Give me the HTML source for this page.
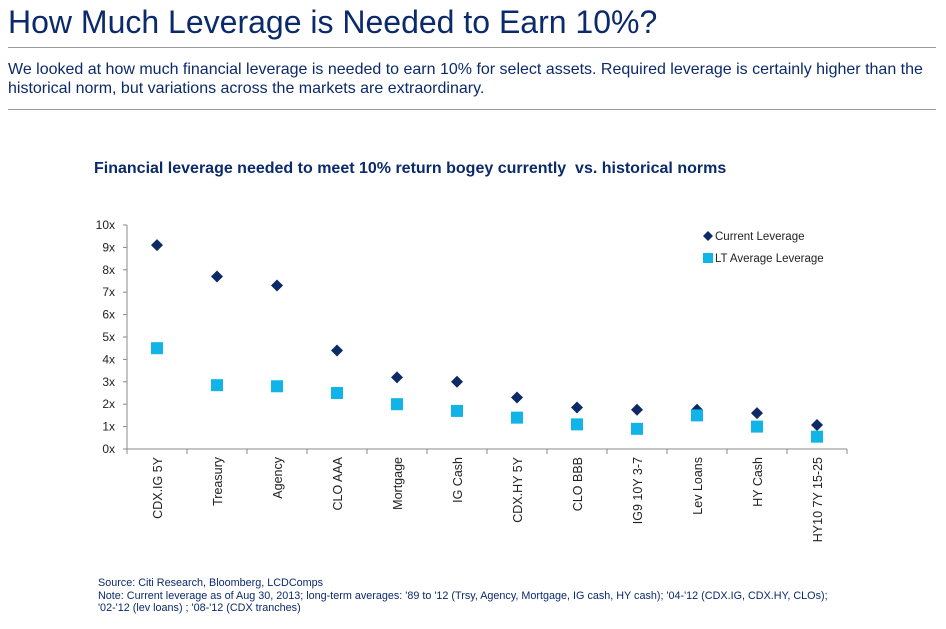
<!DOCTYPE html>
<html><head><meta charset="utf-8"><style>
body{margin:0;width:946px;height:629px;background:#fff;font-family:"Liberation Sans",Arial,sans-serif;overflow:hidden;position:relative}
#title{position:absolute;left:8px;top:4px;font-size:32px;color:#0b2a6b;margin:0;font-weight:normal;white-space:nowrap}
.rule{position:absolute;left:8px;width:928px;height:1px;background:#999}
#desc{position:absolute;left:8px;top:60px;width:936px;font-size:16px;line-height:19px;color:#0b2a6b}
#ctitle{position:absolute;left:94px;top:160px;font-size:16px;font-weight:bold;color:#0b2a6b;white-space:nowrap}
#src{position:absolute;left:98px;top:577px;font-size:10.8px;line-height:12.5px;color:#0b2a6b;white-space:nowrap}
svg{position:absolute;left:0;top:0}
</style></head><body>
<h1 id="title">How Much Leverage is Needed to Earn 10%?</h1>
<div class="rule" style="top:47px"></div>
<div id="desc">We looked at how much financial leverage is needed to earn 10% for select assets. Required leverage is certainly higher than the historical norm, but variations across the markets are extraordinary.</div>
<div class="rule" style="top:109px"></div>
<div id="ctitle">Financial leverage needed to meet 10% return bogey currently&nbsp; vs. historical norms</div>
<svg id="chart" width="946" height="629"></svg>
<div id="src">Source: Citi Research, Bloomberg, LCDComps<br>Note: Current leverage as of Aug 30, 2013; long-term averages: '89 to '12 (Trsy, Agency, Mortgage, IG cash, HY cash); '04-'12 (CDX.IG, CDX.HY, CLOs);<br>'02-'12 (lev loans) ; '08-'12 (CDX tranches)</div>
<script>
const categories=["CDX.IG 5Y","Treasury","Agency","CLO AAA","Mortgage","IG Cash","CDX.HY 5Y","CLO BBB","IG9 10Y 3-7","Lev Loans","HY Cash","HY10 7Y 15-25"];
const currentLev=[9.1,7.7,7.3,4.4,3.2,3.0,2.3,1.85,1.75,1.75,1.6,1.07];
const ltAvgLev=[4.5,2.85,2.8,2.5,2.0,1.7,1.4,1.1,0.9,1.5,1.0,0.55];
const yTicks=[0,1,2,3,4,5,6,7,8,9,10];
const NS="http://www.w3.org/2000/svg";
const svg=document.getElementById('chart');
const x0=127,x1=847,y0=449,y1=225,yMax=10;
const band=(x1-x0)/categories.length;
const xPos=i=>x0+band*(i+0.5);
const yPos=v=>y0-(v/yMax)*(y0-y1);
function mk(t,a){const e=document.createElementNS(NS,t);for(const k in a)e.setAttribute(k,a[k]);svg.appendChild(e);return e;}
const ya=mk('line',{x1:x0,y1:y1,x2:x0,y2:y0,stroke:'#888','stroke-width':1});


const xa=mk('line',{x1:x0,y1:y0,x2:x1,y2:y0,stroke:'#888','stroke-width':1});


yTicks.forEach(v=>{
 const y=yPos(v);
 mk('line',{x1:x0-4,y1:y,x2:x0,y2:y,stroke:'#888'});
 const t=mk('text',{x:x0-12,y:y+4,'text-anchor':'end','font-size':12,fill:'#222','font-family':'Liberation Sans, sans-serif'});
 t.textContent=v+'x';
 
 
});
for(let i=0;i<=categories.length;i++){const x=x0+band*i;mk('line',{x1:x,y1:y0,x2:x,y2:y0+5,stroke:'#888'});}
categories.forEach((c,i)=>{
 const x=xPos(i);
 const t=mk('text',{x:0,y:0,transform:`translate(${x+5},${y0+8}) rotate(-90)`,'text-anchor':'end','font-size':12.5,fill:'#222','font-family':'Liberation Sans, sans-serif'});
 t.textContent=c;
 
 
});
currentLev.forEach((v,i)=>{
 const x=xPos(i),y=yPos(v);
 const p=mk('polygon',{points:`${x},${y-6} ${x+6},${y} ${x},${y+6} ${x-6},${y}`,fill:'#0c2a66'});
 
 
});
ltAvgLev.forEach((v,i)=>{
 const x=xPos(i),y=yPos(v);
 const r=mk('rect',{x:x-6,y:y-6,width:12,height:12,fill:'#11b4e6'});
 
 
});
const lg1=mk('polygon',{points:'708,231 713,236 708,241 703,236',fill:'#0c2a66'});


const lt1=mk('text',{x:715,y:240,'font-size':11.5,fill:'#222','font-family':'Liberation Sans, sans-serif'});
lt1.textContent='Current Leverage';


const lg2=mk('rect',{x:703,y:253,width:10,height:10,fill:'#11b4e6'});


const lt2=mk('text',{x:715,y:262,'font-size':11.5,fill:'#222','font-family':'Liberation Sans, sans-serif'});
lt2.textContent='LT Average Leverage';


</script>
</body></html>
